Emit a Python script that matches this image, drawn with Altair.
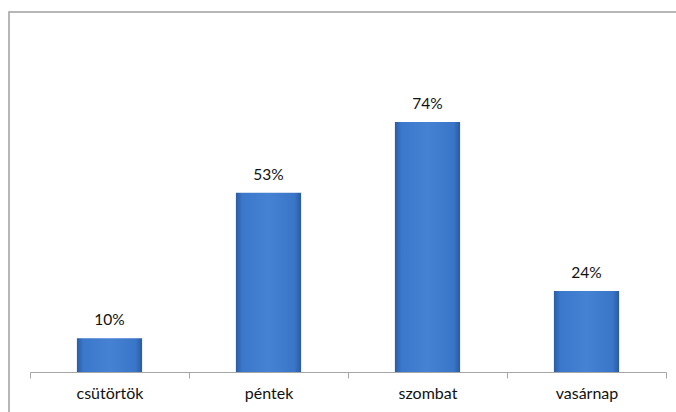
import altair as alt
import pandas as pd

days = ["csütörtök", "péntek", "szombat", "vasárnap"]
shares = [0.10, 0.53, 0.74, 0.24]

df = pd.DataFrame({"day": days, "share": shares})

W, H = 636, 338

x_enc = alt.X(
    "day:N",
    sort=days,
    scale=alt.Scale(paddingInner=0, paddingOuter=0),
    axis=alt.Axis(
        title=None,
        labelAngle=0,
        tickBand="extent",
        domainColor="#a6a6a6",
        tickColor="#a6a6a6",
        tickSize=6,
        labelFont="Lato",
        labelFontSize=16,
        labelColor="#111111",
        labelPadding=7,
        grid=False,
    ),
)
y_enc = alt.Y("share:Q", scale=alt.Scale(domain=[0, 1]), axis=None)

grad = alt.Gradient(
    gradient="linear",
    x1=0, x2=1, y1=0, y2=0,
    stops=[
        alt.GradientStop(color="#2a5ca6", offset=0),
        alt.GradientStop(color="#3b78cc", offset=0.1),
        alt.GradientStop(color="#4582d3", offset=0.5),
        alt.GradientStop(color="#3a76c8", offset=0.9),
        alt.GradientStop(color="#2a5aa2", offset=1),
    ],
)

base = alt.Chart(df).encode(x=x_enc, y=y_enc)

bars = base.mark_bar(color=grad, width=alt.RelativeBandSize(0.41))
labels = base.mark_text(
    dy=-13, baseline="alphabetic", font="Lato", fontSize=15.5, color="#111111"
).encode(text=alt.Text("share:Q", format=".0%"))

frame = alt.Chart(pd.DataFrame({"f": [0]})).mark_rect(
    fill="transparent", stroke="#a0a0a0", strokeWidth=1.5
).encode(
    x=alt.value(-21), x2=alt.value(W + 60),
    y=alt.value(-22), y2=alt.value(H + 80),
)

chart = alt.layer(frame, bars, labels).properties(
    width=W,
    height=H,
    autosize=alt.AutoSizeParams(type="none"),
    padding={"left": 30, "top": 34, "right": 10, "bottom": 40},
).configure_view(stroke=None)

chart.save("out.html", embed_options={"renderer": "svg", "actions": False})
